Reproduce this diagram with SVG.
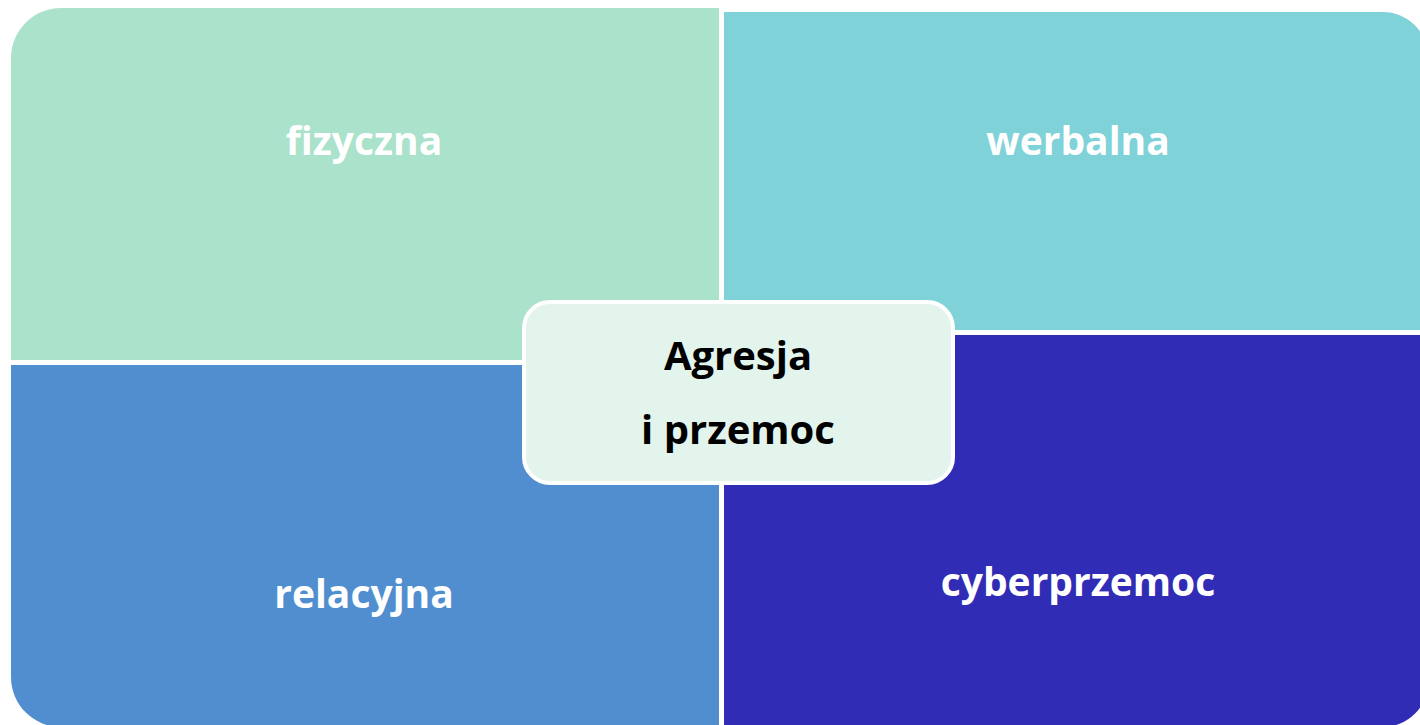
<svg xmlns="http://www.w3.org/2000/svg" width="1420" height="725" viewBox="0 0 1420 725">
<style>
.q{stroke:none}
.lbl{font-family:"Open Sans","Liberation Sans",sans-serif;font-weight:bold;font-size:39px;fill:#ffffff;text-anchor:middle}
.ctr{font-family:"Open Sans","Liberation Sans",sans-serif;font-weight:bold;font-size:40px;fill:#000000;text-anchor:middle}
</style>
<rect width="1420" height="725" fill="#ffffff"/>
<g id="fizyczna">
<path class="q" fill="#ABE2CB" d="M11,58 A50,50 0 0 1 61,8 L719,8 L719,360 L11,360 Z"/>
<text class="lbl" x="364" y="155">fizyczna</text>
</g>
<g id="werbalna">
<path class="q" fill="#7FD2D8" d="M724,12 L1383,12 A45,45 0 0 1 1428,57 L1428,330 L724,330 Z"/>
<text class="lbl" x="1078" y="155">werbalna</text>
</g>
<g id="relacyjna">
<path class="q" fill="#518ECF" d="M11,365 L719,365 L719,727 L61,727 A50,50 0 0 1 11,677 Z"/>
<text class="lbl" x="364" y="608">relacyjna</text>
</g>
<g id="cyberprzemoc">
<path class="q" fill="#312CB6" d="M724,335 L1428,335 L1428,682 A45,45 0 0 1 1383,727 L724,727 Z"/>
<text class="lbl" x="1078" y="596">cyberprzemoc</text>
</g>
<g id="center">
<rect x="524" y="302" width="429" height="181" rx="26" fill="#E3F4EC" stroke="#ffffff" stroke-width="4"/>
<text class="ctr" x="738" y="370">Agresja</text>
<text class="ctr" x="738" y="444">i przemoc</text>
</g>
</svg>
